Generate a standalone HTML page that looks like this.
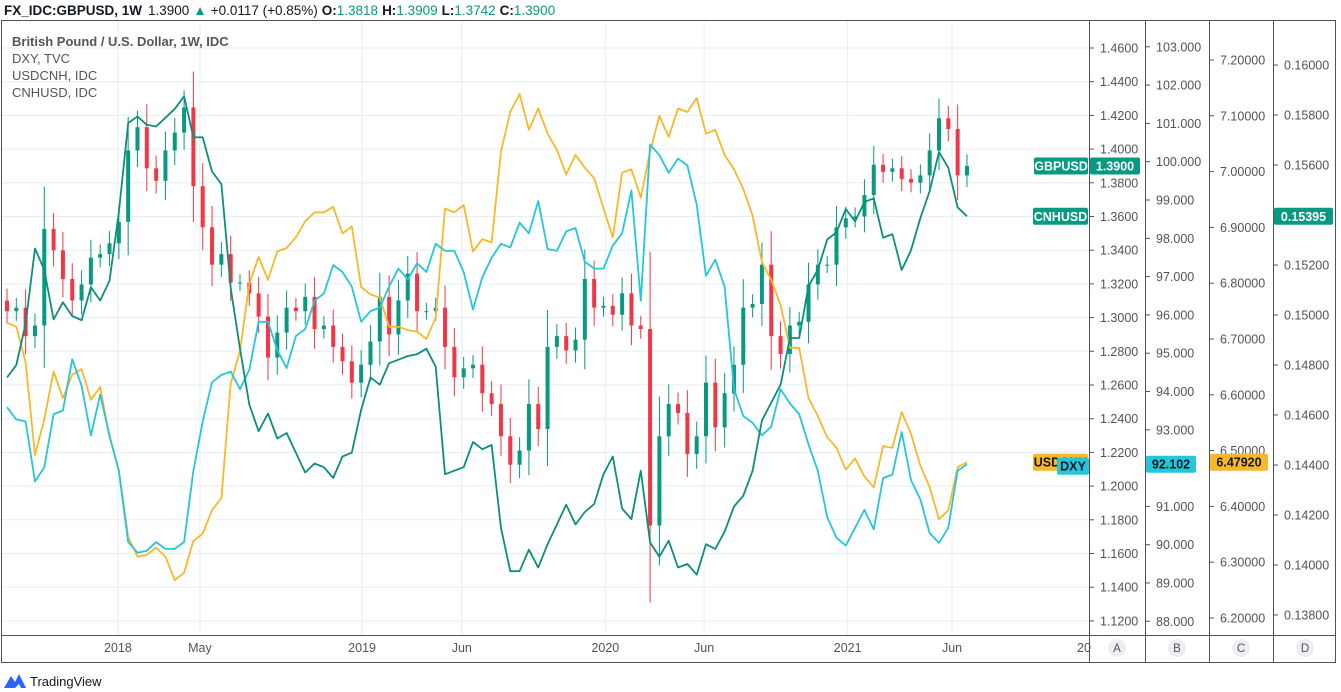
<!DOCTYPE html>
<html><head><meta charset="utf-8">
<style>
body{margin:0;background:#fff;width:1341px;height:692px;overflow:hidden;font-family:"Liberation Sans",sans-serif;}
svg{display:block}
text{font-family:"Liberation Sans",sans-serif}
</style></head>
<body>
<svg id="chart" width="1341" height="692" viewBox="0 0 1341 692">
<text x="4" y="15" font-size="13.5" fill="#131722"><tspan font-weight="bold">FX_IDC:GBPUSD, 1W</tspan><tspan dx="6">1.3900</tspan><tspan fill="#089981" dx="4">▲</tspan><tspan dx="4">+0.0117 (+0.85%)</tspan><tspan dx="4" font-weight="bold">O:</tspan><tspan fill="#089981">1.3818</tspan><tspan dx="4" font-weight="bold">H:</tspan><tspan fill="#089981">1.3909</tspan><tspan dx="4" font-weight="bold">L:</tspan><tspan fill="#089981">1.3742</tspan><tspan dx="4" font-weight="bold">C:</tspan><tspan fill="#089981">1.3900</tspan></text>
<g id="grid"></g>
<g id="marks"></g>
<g id="frame"></g>
<g id="legend">
<text x="12" y="46" font-size="13" fill="#555" font-weight="bold">British Pound / U.S. Dollar, 1W, IDC</text>
<text x="12" y="63" font-size="13" fill="#555">DXY, TVC</text>
<text x="12" y="80" font-size="13" fill="#555">USDCNH, IDC</text>
<text x="12" y="97" font-size="13" fill="#555">CNHUSD, IDC</text>
</g>
<g id="axes"></g>
<g id="footer">
<path d="M4 688 L11 676 L15 682 L19 674 L26 688 L21 688 L19 684 L15 688 Z" fill="#2962ff"/>
<text x="30" y="686" font-size="13" fill="#131722">TradingView</text>
</g>
</svg>
<script>
const gbpClose=[1.3038,1.3059,1.2890,1.2953,1.3526,1.3399,1.3229,1.3102,1.3197,1.3356,1.3377,1.3441,1.3568,1.3992,1.4130,1.3886,1.3812,1.3992,1.4098,1.4247,1.3780,1.3536,1.3314,1.3377,1.3208,1.3208,1.3144,1.3006,1.2763,1.2911,1.3059,1.3038,1.3123,1.2932,1.2953,1.2826,1.2741,1.2614,1.2720,1.2858,1.3123,1.2900,1.3102,1.3261,1.3038,1.3038,1.3059,1.2826,1.2646,1.2699,1.2720,
1.2551,1.2487,1.2296,1.2127,1.2211,1.2487,1.2339,1.2826,1.2890,1.2805,1.2869,1.3229,1.3059,1.3070,1.3017,1.3144,1.2953,1.2932,1.1766,1.2296,1.2487,1.2434,1.2190,1.2296,1.2614,1.2349,1.2551,1.2720,1.3059,1.3081,1.3314,1.2890,1.2784,1.2953,1.2975,1.3197,1.3314,1.3314,1.3536,1.3589,1.3600,1.3727,1.3907,1.3865,1.3886,1.3823,1.3801,1.3844,1.3992,1.4183,1.4119,1.3844,1.3900];
const dxy=[93.59,93.27,93.22,91.65,92.02,93.41,93.50,94.84,94.15,92.85,93.92,92.85,91.93,90.07,89.79,89.84,90.07,89.89,89.89,90.07,91.93,93.22,94.24,94.43,94.52,94.06,94.57,95.82,95.82,95.08,94.61,95.45,95.63,96.37,96.56,97.30,97.12,96.74,95.82,96.10,96.19,96.74,97.21,96.93,97.35,97.12,97.86,97.67,97.67,97.12,96.14,
96.98,97.49,97.86,97.76,98.41,98.13,98.97,97.72,97.67,98.18,98.27,97.39,97.21,97.21,97.81,98.13,99.25,96.37,100.45,100.17,99.71,100.08,99.90,98.88,97.02,97.44,96.74,94.06,93.36,93.18,92.85,93.08,94.06,93.69,93.41,92.62,91.93,90.72,90.18,89.98,90.44,90.91,90.40,91.74,91.83,92.94,91.69,91.18,90.30,90.05,90.44,91.93,92.102];
const usdcnh=[6.729,6.722,6.658,6.492,6.556,6.642,6.594,6.636,6.646,6.591,6.614,6.524,6.466,6.345,6.310,6.313,6.326,6.310,6.268,6.281,6.338,6.351,6.393,6.415,6.620,6.678,6.799,6.847,6.806,6.857,6.863,6.882,6.911,6.927,6.927,6.937,6.889,6.902,6.793,6.780,6.774,6.722,6.722,6.716,6.713,6.700,6.738,6.934,6.927,6.940,6.857,
6.879,6.873,7.036,7.107,7.139,7.075,7.113,7.068,7.039,6.995,7.030,7.007,6.988,6.934,6.882,6.998,7.004,6.953,7.036,7.100,7.062,7.113,7.107,7.132,7.068,7.075,7.030,7.004,6.969,6.921,6.838,6.806,6.761,6.684,6.684,6.594,6.562,6.524,6.505,6.466,6.486,6.454,6.434,6.508,6.505,6.569,6.530,6.473,6.434,6.377,6.393,6.470,6.4792];
const cnhusd=[0.14750,0.14800,0.14965,0.15266,0.15180,0.14982,0.15051,0.14996,0.14979,0.15111,0.15058,0.15137,0.15409,0.15768,0.15794,0.15761,0.15754,0.15789,0.15825,0.15875,0.15711,0.15711,0.15574,0.15524,0.15108,0.14865,0.14642,0.14535,0.14606,0.14506,0.14528,0.14449,0.14370,0.14406,0.14391,0.14348,0.14434,0.14449,0.14621,0.14750,0.14721,0.14807,0.14821,0.14836,0.14843,0.14865,0.14793,0.14363,0.14377,0.14391,0.14492,
0.14463,0.14480,0.14148,0.13975,0.13975,0.14061,0.13990,0.14083,0.14162,0.14241,0.14162,0.14212,0.14244,0.14363,0.14434,0.14226,0.14183,0.14377,0.14090,0.14033,0.14097,0.13990,0.14004,0.13961,0.14083,0.14064,0.14133,0.14234,0.14277,0.14377,0.14578,0.14649,0.14721,0.14908,0.14908,0.15115,0.15180,0.15302,0.15331,0.15424,0.15374,0.15452,0.15467,0.15309,0.15323,0.15180,0.15259,0.15388,0.15496,0.15653,0.15589,0.15431,0.15395];
const ticksA=["1.4600","1.4400","1.4200","1.4000","1.3800","1.3600","1.3400","1.3200","1.3000","1.2800","1.2600","1.2400","1.2200","1.2000","1.1800","1.1600","1.1400","1.1200"];
const ticksB=["103.000","102.000","101.000","100.000","99.000","98.000","97.000","96.000","95.000","94.000","93.000","92.000","91.000","90.000","89.000","88.000"];
const ticksC=["7.20000","7.10000","7.00000","6.90000","6.80000","6.70000","6.60000","6.50000","6.40000","6.30000","6.20000"];
const ticksD=["0.16000","0.15800","0.15600","0.15400","0.15200","0.15000","0.14800","0.14600","0.14400","0.14200","0.14000","0.13800"];
const timeLabels=["2018","May","2019","Jun","2020","Jun","2021","Jun","20"];
const timeIdx=[11.9,20.7,38.1,48.8,64.2,74.8,90.2,101.4,115.1];

const NS="http://www.w3.org/2000/svg";
const xS=i=>7+i*9.32;
const yA=v=>48+(1.46-v)/0.02*33.7;
const yB=v=>46.8+(103-v)*38.3;
const yC=v=>60+(7.2-v)/0.1*55.8;
const yD=v=>65+(0.16-v)/0.002*50;
function mk(tag,attrs,parent){const e=document.createElementNS(NS,tag);for(const k in attrs)e.setAttribute(k,attrs[k]);parent.appendChild(e);return e;}
const grid=document.getElementById('grid'),marks=document.getElementById('marks'),frame=document.getElementById('frame'),axes=document.getElementById('axes');
ticksA.forEach(t=>{const y=yA(parseFloat(t));const l=mk('line',{x1:2,x2:1089,y1:y,y2:y,stroke:'#e6edf3','stroke-width':1},grid);

});
timeIdx.forEach((ti,k)=>{if(k===8)return;const x=xS(ti);const l=mk('line',{x1:x,x2:x,y1:20,y2:635,stroke:'#e6edf3','stroke-width':1},grid);

});
gbpClose.forEach((c,i)=>{const o=i===0?1.3100:gbpClose[i-1];const up=c>=o;const col=up?'#089981':'#f23645';
const hi=Math.max(o,c)+Math.abs(o-c)*0.35+0.005,lo=Math.min(o,c)-Math.abs(o-c)*0.35-0.005;const x=xS(i);
const g=mk('g',{},marks);


mk('line',{x1:x,x2:x,y1:yA(hi),y2:yA(lo),stroke:col,'stroke-width':1},g);
const yt=yA(Math.max(o,c)),yb=yA(Math.min(o,c));
mk('rect',{x:x-2,y:yt,width:4,height:Math.max(1,yb-yt),fill:col},g);});
function line(arr,sc,col,name){const d=arr.map((v,i)=>(i?'L':'M')+xS(i).toFixed(1)+' '+sc(v).toFixed(1)).join(' ');
const p=mk('path',{d:d,fill:'none',stroke:col,'stroke-width':1.8,'stroke-linejoin':'round'},marks);

}
line(usdcnh,yC,'#f9b82a','usdcnh-line');
line(dxy,yB,'#26c6da','dxy-line');
line(cnhusd,yD,'#0b8f7a','cnhusd-line');
mk('rect',{x:1.5,y:20.5,width:1334,height:642,fill:'none',stroke:'#50535e','stroke-width':1},frame);
[1089,1145,1209,1273].forEach(x=>mk('line',{x1:x+.5,x2:x+.5,y1:20,y2:663,stroke:'#50535e','stroke-width':1},frame));
mk('line',{x1:1,x2:1336,y1:635.5,y2:635.5,stroke:'#50535e','stroke-width':1},frame);
function axis(ticks,sc,x0,name){ticks.forEach(t=>{const y=sc(parseFloat(t));if(y<25||y>632)return;
mk('line',{x1:x0,x2:x0+4,y1:y,y2:y,stroke:'#50535e'},axes);
const tx=mk('text',{x:x0+10,y:y+4.5,'font-size':12.5,fill:'#50535e'},axes);tx.textContent=t;

});}
axis(ticksA,yA,1090,'axis-a-tick');axis(ticksB,yB,1146,'axis-b-tick');axis(ticksC,yC,1210,'axis-c-tick');axis(ticksD,yD,1274,'axis-d-tick');
timeLabels.forEach((t,k)=>{const x=xS(timeIdx[k]);const tx=mk('text',{x:x,y:652,'font-size':12.5,fill:'#50535e','text-anchor':k===8?'start':'middle'},axes);
if(k===8)tx.setAttribute('x',1077);
tx.textContent=t;

});
['A','B','C','D'].forEach((t,k)=>{const cx=[1117,1177,1241,1305][k];
const g=mk('g',{},axes);


mk('circle',{cx:cx,cy:648,r:9,fill:'#eceef2'},g);
const tx=mk('text',{x:cx,y:652,'font-size':11.5,fill:'#50535e','text-anchor':'middle'},g);tx.textContent=t;});
function tag(x,y,w,txt,bg,fg,name){const g=mk('g',{},axes);


mk('rect',{x:x,y:y-8.5,width:w,height:17,rx:2,fill:bg},g);
const t=mk('text',{x:x+w/2,y:y+4.5,'font-size':12.5,'font-weight':'bold',fill:fg,'text-anchor':'middle'},g);t.textContent=txt;}
const n=gbpClose.length-1;
tag(1034,yA(gbpClose[n]),54,'GBPUSD','#089981','#fff','gbpusd-name-tag');
tag(1090,yA(gbpClose[n]),50,gbpClose[n].toFixed(4),'#089981','#fff','gbpusd-price-tag');
tag(1033,yD(cnhusd[n]),55,'CNHUSD','#089981','#fff','cnhusd-name-tag');
tag(1274,yD(cnhusd[n]),59,cnhusd[n].toFixed(5),'#089981','#fff','cnhusd-price-tag');
tag(1033,yC(usdcnh[n]),55,'USDCNH','#f9b82a','#131722','usdcnh-name-tag');
tag(1057,yB(dxy[n])+2,32,'DXY','#26c6da','#131722','dxy-name-tag');
tag(1146,yB(dxy[n]),50,dxy[n].toFixed(3),'#26c6da','#131722','dxy-price-tag');
tag(1210,yC(usdcnh[n]),58,usdcnh[n].toFixed(5),'#f9b82a','#131722','usdcnh-price-tag');
</script>
</body></html>
